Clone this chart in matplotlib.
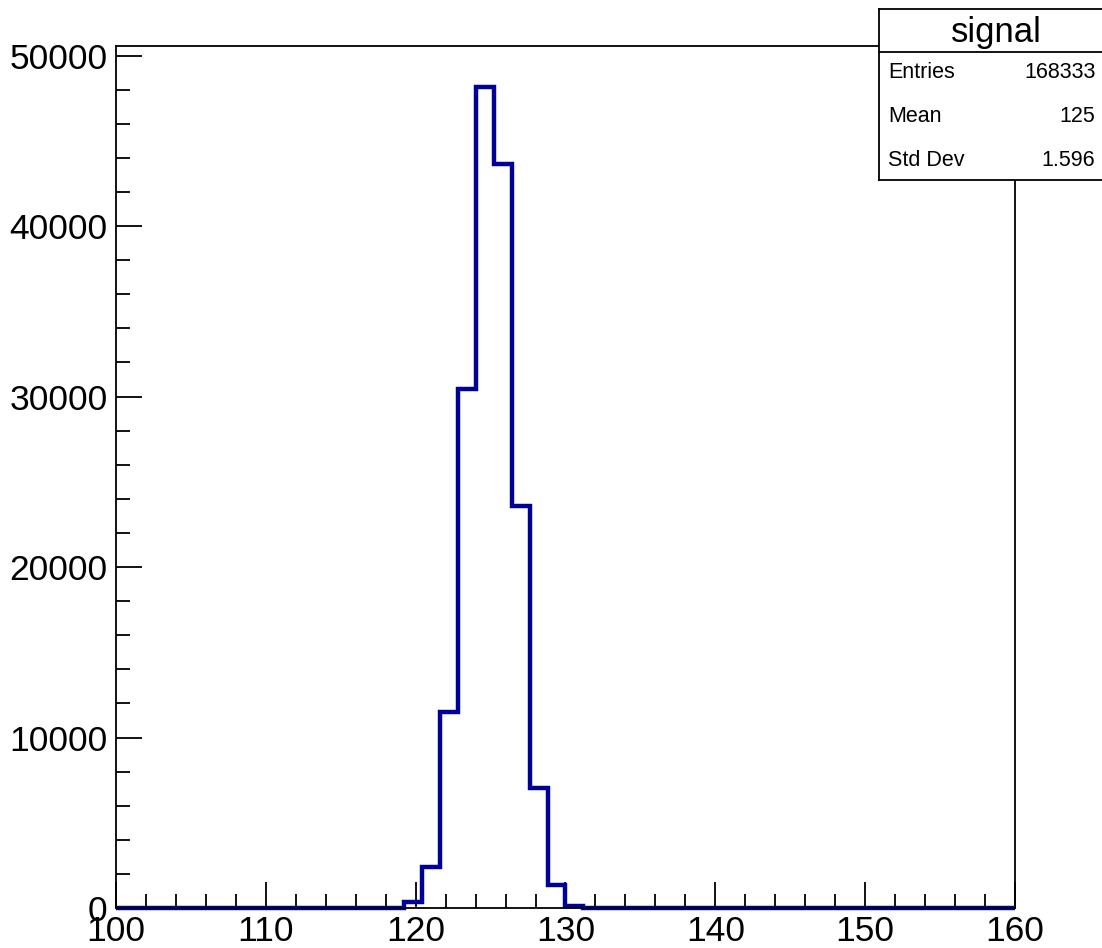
import numpy as np
import matplotlib
matplotlib.use('Agg')
import matplotlib.pyplot as plt
from matplotlib.ticker import MultipleLocator

plt.rcParams['font.family'] = ['Liberation Sans', 'DejaVu Sans']

# histogram "signal": 50 bins from 100 to 160
x_lo, x_hi, n_bins = 100, 160, 50
counts = [0]*16 + [350, 2400, 11500, 30450, 48150, 43650, 23550, 7050, 1350, 120] + [0]*24
stat_names = ['Entries', 'Mean', 'Std Dev']
stat_values = ['168333', '125', '1.596']
hist_name = 'signal'

edges = np.linspace(x_lo, x_hi, n_bins + 1)

fig = plt.figure(figsize=(11.02, 9.48), dpi=100)
ax = fig.add_axes([116/1102, 40/948, (1015-116)/1102, (908-46)/948])
ax.stairs(counts, edges, color='#000099', linewidth=3.2, clip_on=False, zorder=2)

ax.set_xlim(x_lo, x_hi)
ax.set_ylim(0, 1.05*max(counts))
ax.xaxis.set_major_locator(MultipleLocator(10))
ax.xaxis.set_minor_locator(MultipleLocator(2))
ax.yaxis.set_major_locator(MultipleLocator(10000))
ax.yaxis.set_minor_locator(MultipleLocator(2000))
ax.tick_params(which='both', direction='in', top=False, right=False, labelsize=25.5, width=1.3)
ax.tick_params(which='major', length=19)
ax.tick_params(which='minor', length=10)
ax.tick_params(axis='x', pad=5)
ax.tick_params(axis='y', pad=6)
for s in ax.spines.values():
    s.set_linewidth(1.3)
    s.set_zorder(3)

# stats box
bx = fig.add_axes([879/1102, 1-180/948, 1.0-879/1102+0.01, (180-9)/948])
bx.set_xlim(0, 1)
bx.set_ylim(0, 1)
bx.set_xticks([])
bx.set_yticks([])
for s in bx.spines.values():
    s.set_linewidth(1.3)
sep = (180-52)/(180-9)
bx.axhline(sep, color='black', linewidth=1.3)
bx.text(0.5, (sep+1)/2 - 0.01, hist_name, ha='center', va='center', fontsize=25)
row_y = [73, 117, 160]
for nm, v, ry in zip(stat_names, stat_values, row_y):
    yy = (180-ry)/(180-9)
    bx.text(0.04, yy, nm, ha='left', va='center', fontsize=15.5)
    bx.text(0.925, yy, v, ha='right', va='center', fontsize=15.5)

fig.savefig('out.png', dpi=100)
